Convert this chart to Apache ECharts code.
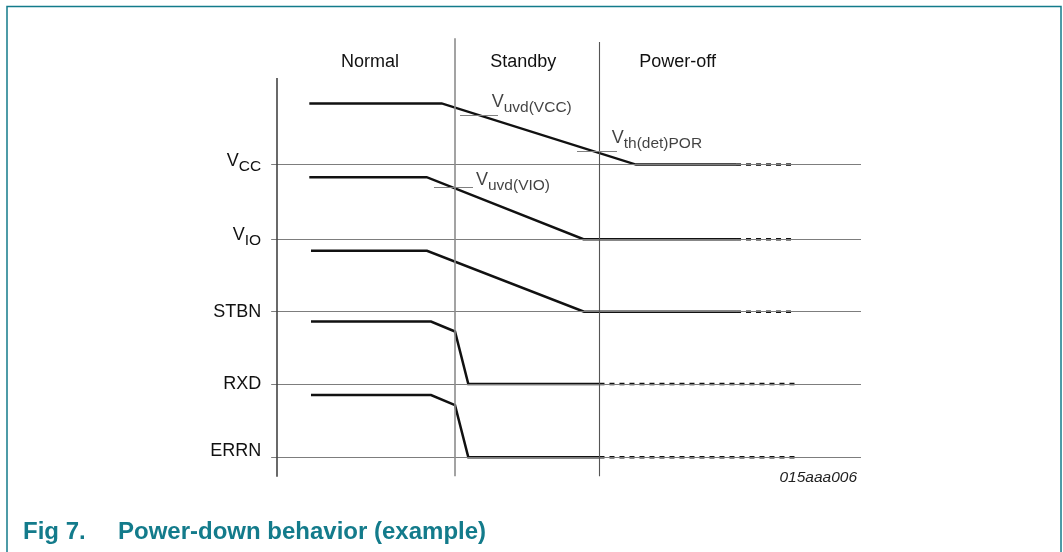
<!DOCTYPE html>
<html><head><meta charset="utf-8">
<script src="https://cdn.jsdelivr.net/npm/echarts@6/dist/echarts.min.js"></script>
<style>html,body{margin:0;padding:0;background:#fff}#c{width:1063px;height:552px}</style>
</head><body><div id="c"></div>
<script>
// ---- data (time units on x, signal levels on y) ----
const phases = ['Normal', 'Standby', 'Power-off'];
const phaseStart = [0, 30.48, 55.22];
const phaseEnd = [30.48, 55.22, 82];
const signalNames = ['VCC', 'VIO', 'STBN', 'RXD', 'ERRN'];
const signalLabels = ['{v|V}{s|CC}', '{v|V}{s|IO}', '{p|STBN}', '{p|RXD}', '{q|ERRN}'];
const baselineLevels = [4.0, 2.98, 1.99, 1.0, 0.0];
const baselineStart = -1.0;
const baselineEnd = 100;

const vccSolid = [[5.53, 4.836], [28.20, 4.836], [61.47, 4.0], [78.60, 4.0]];
const vccDashed = [[78.60, 4.0], [88.36, 4.0]];
const vioSolid = [[5.53, 3.828], [25.63, 3.828], [52.48, 2.98], [78.60, 2.98]];
const vioDashed = [[78.60, 2.98], [88.53, 2.98]];
const stbnSolid = [[5.82, 2.821], [25.68, 2.821], [52.57, 1.99], [78.60, 1.99]];
const stbnDashed = [[78.60, 1.99], [88.36, 1.99]];
const rxdSolid = [[5.82, 1.855], [26.37, 1.855], [30.48, 1.719], [32.76, 1.0], [55.22, 1.0]];
const rxdDashed = [[55.22, 1.0], [88.99, 1.0]];
const errnSolid = [[5.82, 0.850], [26.37, 0.850], [30.48, 0.713], [32.76, 0.0], [55.22, 0.0]];
const errnDashed = [[55.22, 0.0], [88.99, 0.0]];

const thresholdNames = ['uvd(VCC)', 'th(det)POR', 'uvd(VIO)'];
const thresholdX1 = [31.34, 51.37, 26.88];
const thresholdX2 = [37.84, 58.22, 33.56];
const thresholdLevel = [4.669, 4.178, 3.686];

const axisX = 0;
const axisTop = 5.184;
const separatorX = [30.48, 55.22];
const separatorTop = [5.728, 5.676];
const chartBottom = -0.26;

// ---- styles ----
const TEAL = '#137b8b';
const INK = '#111';
const FONT = '"Liberation Sans", Arial, Helvetica, sans-serif';
const richMain = {
  v: { fontSize: 18, padding: [0, 0, 8, 0], color: INK, fontFamily: FONT },
  s: { fontSize: 15.5, padding: [4, 0, 0, 0], color: INK, fontFamily: FONT },
  p: { fontSize: 18, color: INK, fontFamily: FONT },
  q: { fontSize: 18, padding: [0, 0, 13, 0], color: INK, fontFamily: FONT }
};
const thresholdOffsets = [[-6.3, -10], [-5.3, -9.4], [3, -3.7]];

const chart = echarts.init(document.getElementById('c'), null, { renderer: 'canvas' });

const guideLines = [];
baselineLevels.forEach((lv, i) => {
  guideLines.push([
    { coord: [baselineStart, lv], lineStyle: { color: '#7d7d7d', width: 1.2, type: 'solid' },
      label: { show: true, position: 'start', distance: 10, color: INK, formatter: signalLabels[i], rich: richMain } },
    { coord: [baselineEnd, lv] }
  ]);
});
separatorX.forEach((x, i) => {
  guideLines.push([
    { coord: [x, separatorTop[i]], lineStyle: { color: i === 0 ? '#8c8c8c' : '#555', width: i === 0 ? 1.6 : 1.1, type: 'solid' }, label: { show: false } },
    { coord: [x, chartBottom] }
  ]);
});
guideLines.push([
  { coord: [axisX, axisTop], lineStyle: { color: '#444', width: 1.6, type: 'solid' }, label: { show: false } },
  { coord: [axisX, chartBottom - 0.006] }
]);
thresholdNames.forEach((n, i) => {
  guideLines.push([
    { coord: [thresholdX1[i], thresholdLevel[i]], lineStyle: { color: '#808080', width: 1.2, type: 'solid' }, label: { show: false } },
    { coord: [thresholdX2[i], thresholdLevel[i]] }
  ]);
});

function sig(name, data, dashed) {
  return {
    name: name, type: 'line', data: data, symbol: 'none', showSymbol: false, clip: false, z: 4,
    silent: true, animation: false,
    lineStyle: { color: INK, width: 2.5, type: dashed ? [5, 5] : 'solid', cap: 'butt', join: 'miter' }
  };
}

const option = {
  animation: false,
  backgroundColor: '#fff',
  textStyle: { fontFamily: FONT },
  graphic: [{
    type: 'polyline', silent: true, z: 100,
    shape: { points: [[7, 552], [7, 6.5], [1061, 6.5], [1061, 552]] },
    style: { stroke: TEAL, lineWidth: 1.5, fill: null }
  }],
  title: [
    { text: 'Fig 7.', left: 23, top: 520, padding: 0,
      textStyle: { fontSize: 24, fontWeight: 'bold', color: TEAL, fontFamily: FONT } },
    { text: 'Power-down behavior (example)', left: 118, top: 520, padding: 0,
      textStyle: { fontSize: 24, fontWeight: 'bold', color: TEAL, fontFamily: FONT } },
    { text: '015aaa006', right: 206, top: 470, padding: 0,
      textStyle: { fontSize: 15.5, fontWeight: 'normal', fontStyle: 'italic', color: '#222', fontFamily: FONT } }
  ],
  grid: { left: 218.6, right: 202, top: 38, bottom: 75, containLabel: false },
  xAxis: { type: 'value', min: -10, max: 100, show: false },
  yAxis: { type: 'value', min: -0.27, max: 5.73, show: false },
  series: [
    {
      name: 'guides', type: 'line', data: [], z: 1, silent: true, animation: false,
      markLine: { symbol: 'none', silent: true, animation: false, data: guideLines },
      markArea: {
        silent: true,
        itemStyle: { color: 'rgba(0,0,0,0)' },
        data: phases.map((p, i) => [
          { name: p, coord: [phaseStart[i], 5.728],
            label: { show: true, position: 'inside', offset: [[4, 0], [-4, 0], [0, 0]][i],
              fontSize: 18, color: INK, fontFamily: FONT } },
          { coord: [phaseEnd[i], 5.075] }
        ])
      }
    },
    {
      name: 'thresholds', type: 'scatter', symbolSize: 0, z: 5, silent: true, animation: false,
      itemStyle: { color: INK },
      data: thresholdNames.map((n, i) => ({
        value: [thresholdX2[i], thresholdLevel[i]],
        label: { show: true, position: 'right', distance: 0, offset: thresholdOffsets[i], color: INK,
          formatter: '{v|V}{s|' + n + '}', rich: richMain }
      }))
    },
    sig('VCC', vccSolid, false), sig('VCC tail', vccDashed, true),
    sig('VIO', vioSolid, false), sig('VIO tail', vioDashed, true),
    sig('STBN', stbnSolid, false), sig('STBN tail', stbnDashed, true),
    sig('RXD', rxdSolid, false), sig('RXD tail', rxdDashed, true),
    sig('ERRN', errnSolid, false), sig('ERRN tail', errnDashed, true)
  ]
};
chart.setOption(option);
</script>
</body></html>
